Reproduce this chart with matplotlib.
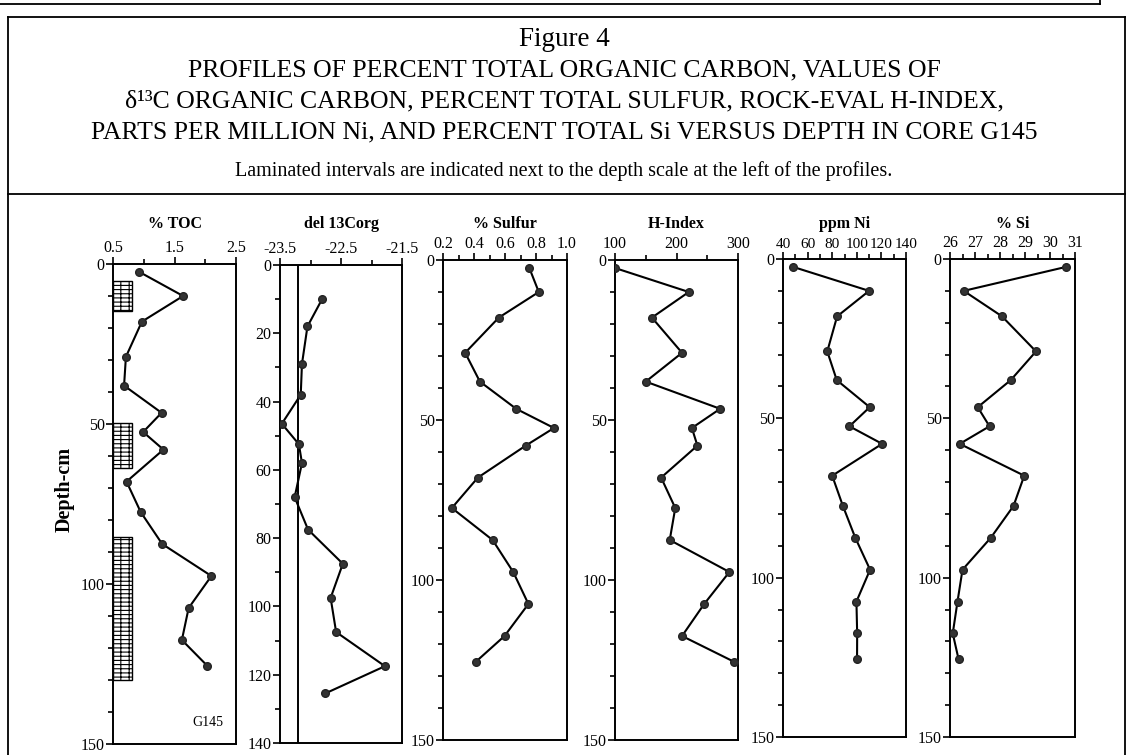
import numpy as np
import matplotlib.pyplot as plt
from matplotlib.patches import Rectangle
from matplotlib.ticker import MultipleLocator, FixedLocator, FormatStrFormatter

plt.rcParams['font.family'] = ['Liberation Serif', 'DejaVu Serif']
plt.rcParams['hatch.linewidth'] = 0.8
plt.rcParams['axes.unicode_minus'] = False

# sample depths in core G145 (cm)
depth = [2.5, 10, 18, 29, 38, 46.5, 52.5, 58, 68, 77.5, 87.5, 97.5, 107.5, 117.5, 125.5]

toc = [0.93, 1.64, 0.97, 0.71, 0.68, 1.29, 0.99, 1.32, 0.72, 0.95, 1.30, 2.10, 1.73, 1.62, 2.03]
# no isotope value for the top sample
d13c = [-22.81, -23.05, -23.14, -23.16, -23.47, -23.19, -23.14, -23.26, -23.04,
        -22.47, -22.67, -22.58, -21.78, -22.76]
d13c_ref = -23.2
sulfur = [0.757, 0.818, 0.56, 0.343, 0.438, 0.672, 0.916, 0.734, 0.425, 0.257,
          0.52, 0.653, 0.751, 0.597, 0.413]
h_index = [100, 220, 160, 209, 150, 271, 225, 234, 175, 198, 189, 286, 245, 209, 293]
ni = [48.4, 110, 84, 76, 83.7, 110.5, 94, 120.6, 80, 88.7, 98.8, 110.8, 99.7, 100.3, 100.2]
si = [30.63, 26.55, 28.08, 29.44, 28.43, 27.11, 27.58, 26.39, 28.97, 28.54, 27.63,
      26.5, 26.3, 26.11, 26.34]

# laminated intervals (top, bottom depth in cm)
laminated = [(5.2, 14.6), (49.7, 63.8), (85.3, 130.0)]

# top-axis tick values: labelled, unlabelled
toc_ticks = ([0.5, 1.5, 2.5], [1.0, 2.0])
d13c_ticks = ([-23.5, -22.5, -21.5], [-23.0, -22.0])
sulfur_ticks = ([0.2, 0.4, 0.6, 0.8, 1.0], [0.3, 0.5, 0.7, 0.9])
h_ticks = ([100, 200, 300], [150, 250])
ni_ticks = ([40, 60, 80, 100, 120, 140], [50, 70, 90, 110, 130])
si_ticks = ([26, 27, 28, 29, 30, 31], [26.5, 27.5, 28.5, 29.5, 30.5])

W, H = 1128, 755
fig = plt.figure(figsize=(W / 100, H / 100), dpi=100)


def fx(x):
    return x / W


def fy(y):
    return 1 - y / H


# frame and title block
frame = dict(color='black', lw=1.3, transform=fig.transFigure, clip_on=False)
fig.add_artist(plt.Line2D([0, fx(1100)], [fy(4), fy(4)], **frame))
fig.add_artist(plt.Line2D([fx(1100), fx(1100)], [fy(0), fy(4)], **frame))
fig.add_artist(plt.Line2D([fx(8), fx(1125)], [fy(17), fy(17)], **frame))
fig.add_artist(plt.Line2D([fx(8), fx(8)], [fy(17), 0], **frame))
fig.add_artist(plt.Line2D([fx(1125), fx(1125)], [fy(17), 0], **frame))
fig.add_artist(plt.Line2D([fx(8), fx(1125)], [fy(194), fy(194)], **frame))

title_lines = [
    "Figure 4",
    "PROFILES OF PERCENT TOTAL ORGANIC CARBON, VALUES OF",
    "δ¹³C ORGANIC CARBON, PERCENT TOTAL SULFUR, ROCK-EVAL H-INDEX,",
    "PARTS PER MILLION Ni, AND PERCENT TOTAL Si VERSUS DEPTH IN CORE G145",
]
for i, line in enumerate(title_lines):
    fig.text(0.5, fy(39 + 31 * i), line, ha='center', va='center',
             fontsize=19.5 if i == 0 else 18.5)
fig.text(0.5, fy(171), "Laminated intervals are indicated next to the depth scale at the left of the profiles.",
         ha='center', va='center', fontsize=14.5)

# panel boxes in pixels: left, right, top, bottom
boxes = [(113, 236, 264, 744), (280, 402, 265, 743), (443, 567, 260, 740),
         (615, 738, 260, 740), (783, 906, 259, 737), (950, 1075, 259, 737)]

panels = [
    ("% TOC", toc, depth, (0.5, 2.5), toc_ticks, '%.1f', (150, 0), 50),
    ("del 13Corg", d13c, depth[1:], (-23.5, -21.5), d13c_ticks, '%.1f', (140, 0), 20),
    ("% Sulfur", sulfur, depth, (0.2, 1.0), sulfur_ticks, '%.1f', (150, 0), 50),
    ("H-Index", h_index, depth, (100, 300), h_ticks, '%d', (150, 0), 50),
    ("ppm Ni", ni, depth, (40, 140), ni_ticks, '%d', (150, 0), 50),
    ("% Si", si, depth, (26, 31), si_ticks, '%d', (150, 0), 50),
]

axes = []
for (l, r, t, b), (name, vals, dep, xlim, ticks, fmt, ylim, ymaj) in zip(boxes, panels):
    ax = fig.add_axes([fx(l), fy(b), fx(r - l), (b - t) / H])
    ax.plot(vals, dep, color='black', lw=1.5, marker='o', markersize=5.5,
            markerfacecolor='#333333', markeredgecolor='#222222', zorder=3)
    ax.set_xlim(*xlim)
    ax.set_ylim(*ylim)
    ax.xaxis.set_major_locator(FixedLocator(ticks[0]))
    ax.xaxis.set_minor_locator(FixedLocator(ticks[1]))
    ax.xaxis.set_major_formatter(FormatStrFormatter(fmt))
    ax.yaxis.set_major_locator(MultipleLocator(ymaj))
    ax.yaxis.set_minor_locator(MultipleLocator(10))
    ax.xaxis.tick_top()
    ax.tick_params(which='both', direction='out', width=1.2, labelsize=11.5, pad=1)
    ax.tick_params(which='major', length=5)
    ax.tick_params(which='minor', length=3.5)
    ax.tick_params(axis='x', labelsize=11 if name == "ppm Ni" else 11.5)
    for s in ax.spines.values():
        s.set_linewidth(1.4)
    fig.text(fx((l + r) / 2), fy(224), name, ha='center', va='center',
             fontsize=11.5, fontweight='bold')
    axes.append(ax)

# laminated intervals beside the depth scale
ax_toc = axes[0]
for top, bot in laminated:
    ax_toc.add_patch(Rectangle((0.5, top), 0.31, bot - top, facecolor='white',
                               edgecolor='black', lw=1.0, hatch='----||', zorder=2))
ax_toc.text(0.9, 0.045, "G145", transform=ax_toc.transAxes, ha='right',
            va='center', fontsize=10)
ax_toc.set_ylabel("Depth-cm", fontsize=14.5, fontweight='bold')
ax_toc.yaxis.set_label_coords((75 - 113) / 123, 0.53)

# reference line on the isotope profile
axes[1].axvline(d13c_ref, color='black', lw=1.4, zorder=2)

fig.savefig('out.png', dpi=100)
